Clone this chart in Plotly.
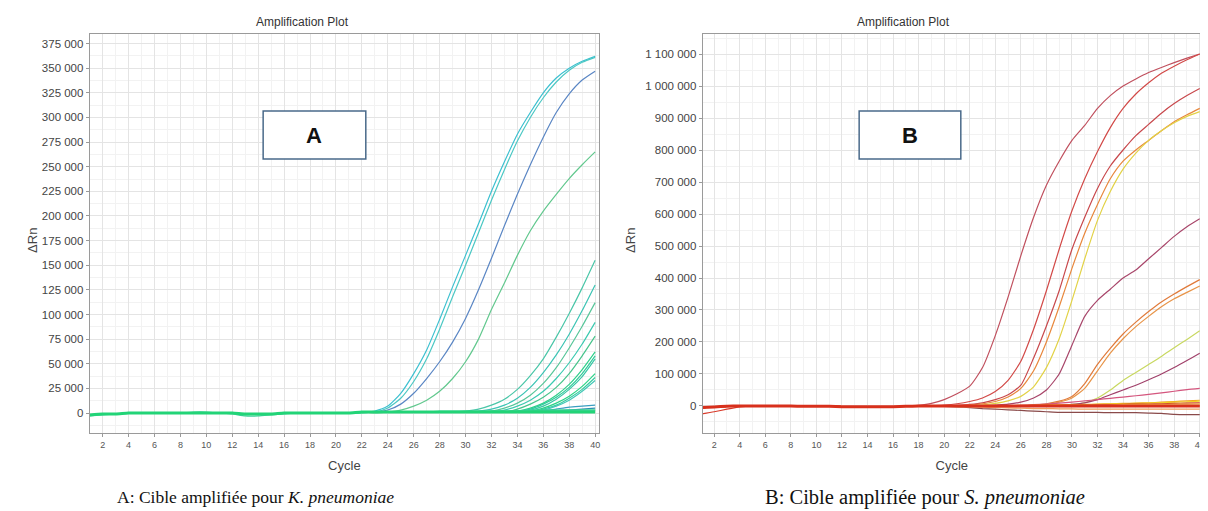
import plotly.graph_objects as go

# ---------------- data (values in thousands of ΔRn), cycles 1..40 ----------------
cycles = list(range(1, 41))

# Panel A baseline (cycles 1..40)
base_a = [-2, -1, -1, 0, 0, 0, 0, 0, 0, 0, 0, 0, -1, -1, -1, 0, 0, 0, 0, 0,
          0, 1, 1, 1, 1, 1, 1, 1, 1, 1, 1, 1, 1, 1, 1, 1, 1, 1, 1, 1]
# one thin baseline curve with a small dip (cycles 1..40)
dip_a = [-3, -2, -1, 0, 0, 0, 0, 0, 1, 1, 0, -1, -3, -3, -2, -1, 0, 0, 0, 0,
         0, 0, 1, 1, 1, 1, 1, 2, 2, 2, 2, 2, 2, 2, 3, 3, 3, 3, 3, 3]

# Panel A amplification curves: (first cycle of tail, tail values)
a_curves = {
    "A1": (23, [2, 7, 20, 40, 64, 95, 128, 160, 192, 225, 255, 283, 305, 325, 340, 350, 357, 362]),
    "A2": (23, [1, 5, 15, 32, 55, 85, 118, 150, 183, 216, 247, 276, 300, 320, 336, 348, 356, 361]),
    "A3": (23, [1, 3, 9, 20, 35, 52, 72, 96, 125, 157, 190, 222, 252, 280, 305, 324, 338, 347]),
    "A4": (23, [0, 1, 3, 7, 13, 22, 35, 52, 75, 105, 132, 160, 185, 205, 222, 238, 252, 265]),
    "A5": (30, [2, 4, 8, 14, 24, 38, 55, 77, 101, 127, 155]),
    "A6": (31, [2, 4, 8, 15, 26, 41, 59, 80, 104, 130]),
    "A7": (32, [2, 5, 10, 18, 30, 46, 66, 88, 112]),
    "A8": (33, [3, 7, 13, 22, 35, 51, 70, 92]),
    "A9": (34, [4, 9, 16, 26, 40, 58, 78]),
    "A10": (33, [1, 2, 5, 10, 18, 29, 44, 62]),
    "A11": (34, [2, 4, 9, 16, 26, 40, 58]),
    "A12": (34, [1, 3, 7, 14, 24, 37, 55]),
    "A13": (35, [2, 5, 10, 17, 27, 40]),
    "A14": (35, [1, 4, 8, 15, 24, 36]),
    "A15": (35, [1, 3, 7, 13, 22, 33]),
    "A16": (36, [2, 4, 6, 7, 8]),
    "A17": (37, [2, 3, 4, 5]),
    "A18": (30, [1, 1, 2, 2, 2, 2, 3, 3, 3, 3, 3]),
}
a_colors = {
    "A1": "#3cc0d0", "A2": "#4cc8c4", "A3": "#5a86c4", "A4": "#62c88e",
    "A5": "#4ac6a8", "A6": "#3cc4b4", "A7": "#58c69a", "A8": "#3ccab0",
    "A9": "#48c48c", "A10": "#2ed08a", "A11": "#30cc9a", "A12": "#3ac6a6",
    "A13": "#2ad486", "A14": "#38cca0", "A15": "#44c8b8", "A16": "#3a9ec0",
    "A17": "#2c8fb0", "A18": "#2bd47c",
}

# Panel B baseline (cycles 1..40)
base_b = [-5, -3, -1, 0, 0, 0, 0, 0, -1, -1, -1, -2, -2, -2, -2, -2, -1, 0, 0, 0,
          0, 0, 0, 0, 0, 0, 0, 0, 0, 0, 0, 0, 0, 0, 0, 0, 0, 0, 0, 0]

b_curves = {
    "B1": (18, [2, 8, 20, 38, 62, 120, 220, 340, 470, 590, 690, 765, 830, 877, 930, 970,
                1000, 1022, 1042, 1058, 1073, 1087, 1100]),
    "B2": (19, [1, 3, 7, 14, 25, 45, 80, 140, 240, 360, 490, 610, 710, 795, 870, 930, 975,
                1010, 1040, 1062, 1082, 1100]),
    "B3": (21, [2, 5, 10, 20, 35, 65, 150, 250, 360, 490, 590, 680, 750, 800, 845, 880, 915,
                945, 970, 992]),
    "B4": (22, [3, 7, 14, 28, 55, 110, 200, 310, 430, 540, 630, 710, 765, 800, 830, 860, 888,
                910, 930]),
    "B5": (23, [3, 8, 16, 30, 60, 120, 210, 330, 460, 580, 670, 740, 790, 830, 860, 885, 905, 920]),
    "B6": (24, [3, 6, 12, 25, 50, 100, 190, 280, 330, 365, 400, 425, 460, 495, 530, 560, 585]),
    "B7": (27, [3, 7, 15, 30, 70, 130, 180, 225, 262, 295, 325, 350, 373, 395]),
    "B8": (27, [2, 5, 12, 25, 55, 110, 165, 210, 248, 280, 310, 335, 355, 375]),
    "B9": (29, [2, 5, 10, 25, 50, 80, 105, 130, 155, 182, 208, 235]),
    "B10": (29, [2, 5, 10, 20, 35, 50, 65, 82, 100, 120, 142, 165]),
    "B11": (26, [2, 4, 6, 9, 12, 16, 20, 24, 28, 32, 36, 41, 46, 51, 55]),
    "B12": (24, [1, 1, 2, 2, 3, 3, 4, 5, 6, 7, 8, 9, 10, 12, 14, 16, 18]),
    "B13": (24, [0, 1, 1, 2, 2, 3, 3, 4, 5, 6, 7, 8, 9, 10, 12, 13, 15]),
    "B14": (24, [1, 1, 1, 2, 2, 2, 3, 3, 4, 4, 5, 6, 6, 7, 8, 9, 10]),
    "B15": (24, [0, 0, 1, 1, 1, 2, 2, 2, 3, 3, 4, 4, 5, 5, 6, 6, 7]),
    "B16": (24, [-1, -1, -1, -1, -1, 0, 0, 0, 0, 0, 1, 1, 1, 2, 2, 2, 3]),
    "B17": (20, [-1, -3, -5, -8, -10, -12, -14, -16, -18, -20, -20, -20, -20, -21, -21, -21,
                 -22, -23, -26, -27, -27]),
    "B18": (20, [-1, -2, -3, -4, -5, -6, -7, -8, -8, -9, -9, -10, -10, -10, -10, -10, -10,
                 -10, -10, -10, -10]),
}
b_start_outlier = [-25, -18, -10, -3, 0]   # red curve, cycles 1..5
b_colors = {
    "B1": "#c0505e", "B2": "#d24a48", "B3": "#c8484c", "B4": "#e8873c", "B5": "#e2d246",
    "B6": "#a8466a", "B7": "#e07a3a", "B8": "#e89448", "B9": "#c8d860", "B10": "#a0406a",
    "B11": "#d4567e", "B12": "#f0a020", "B13": "#f2d020", "B14": "#c83020", "B15": "#f0b850",
    "B16": "#e8e060", "B17": "#8a4a4a", "B18": "#f0a060",
}

a_yticks = list(range(0, 375001, 25000))
b_yticks = list(range(0, 1100001, 100000))
x_ticks = list(range(2, 41, 2))

def spaced(v):
    return f"{v:,}".replace(",", " ")

title_text = "Amplification Plot"
ylabel = "ΔRn"
xlabel = "Cycle"
caption_a = "A: Cible amplifiée pour <i>K. pneumoniae</i>"
caption_b = "B: Cible amplifiée pour <i>S. pneumoniae</i>"

# ---------------- figure ----------------
# the page body has an 8 px margin; the figure fills the rest of the 1208x511 window
OFF = 8
W, H = 1208 - OFF, 511 - OFF
fig = go.Figure()

def build(start, tail, base):
    return [v * 1000 for v in base[:start - 1] + tail]

LW = 1.2
for name, (start, tail) in a_curves.items():
    fig.add_trace(go.Scatter(x=cycles, y=build(start, tail, base_a), mode="lines",
                             line=dict(color=a_colors[name], width=LW, shape="spline", smoothing=0.6),
                             xaxis="x", yaxis="y", showlegend=False, hoverinfo="skip"))
fig.add_trace(go.Scatter(x=cycles, y=[v * 1000 for v in dip_a], mode="lines",
                         line=dict(color="#3ccf9a", width=LW, shape="spline", smoothing=0.6),
                         xaxis="x", yaxis="y", showlegend=False, hoverinfo="skip"))
fig.add_trace(go.Scatter(x=cycles, y=[v * 1000 for v in base_a], mode="lines",
                         line=dict(color="#22d477", width=3, shape="spline", smoothing=0.6),
                         xaxis="x", yaxis="y", showlegend=False, hoverinfo="skip"))

for name, (start, tail) in b_curves.items():
    fig.add_trace(go.Scatter(x=cycles, y=build(start, tail, base_b), mode="lines",
                             line=dict(color=b_colors[name], width=LW, shape="spline", smoothing=0.6),
                             xaxis="x2", yaxis="y2", showlegend=False, hoverinfo="skip"))
fig.add_trace(go.Scatter(x=cycles, y=[v * 1000 for v in b_start_outlier + base_b[5:]], mode="lines",
                         line=dict(color="#d83a2a", width=LW, shape="spline", smoothing=0.6),
                         xaxis="x2", yaxis="y2", showlegend=False, hoverinfo="skip"))
fig.add_trace(go.Scatter(x=cycles, y=[v * 1000 for v in base_b], mode="lines",
                         line=dict(color="#d8301c", width=3, shape="spline", smoothing=0.6),
                         xaxis="x2", yaxis="y2", showlegend=False, hoverinfo="skip"))

def px_x(p):
    return (p - OFF) / W

def px_y(p):
    return 1 - (p - OFF) / H

SANS = "Liberation Sans, Arial"
common_x = dict(tickvals=x_ticks, ticktext=[str(t) for t in x_ticks], showline=True, mirror=True,
                linecolor="#9a9a9a", linewidth=1, ticks="outside", ticklen=3, tickcolor="#9a9a9a",
                showgrid=True, gridcolor="#e4e4e4", gridwidth=1, zeroline=False,
                ticklabeloverflow="allow",
                tickfont=dict(family=SANS, size=9, color="#555"),
                minor=dict(dtick=1, showgrid=True, gridcolor="#f2f2f2", ticks=""),
                title=dict(text=xlabel, font=dict(family=SANS, size=13, color="#444"), standoff=12))
common_y = dict(showline=True, mirror=True, linecolor="#9a9a9a", ticks="outside", ticklen=3,
                tickcolor="#9a9a9a", showgrid=True, gridcolor="#e4e4e4", zeroline=False,
                tickfont=dict(family=SANS, size=11.5, color="#444"))

fig.update_layout(
    width=W, height=H, margin=dict(l=0, r=0, t=0, b=0),
    paper_bgcolor="white", plot_bgcolor="white",
    xaxis=dict(domain=[px_x(90), px_x(601)], range=[1, 40.3], anchor="y", **common_x),
    yaxis=dict(domain=[px_y(433), px_y(34)], range=[-20300, 384700], anchor="x",
               tickvals=a_yticks, ticktext=[spaced(v) for v in a_yticks],
               minor=dict(dtick=12500, showgrid=True, gridcolor="#f2f2f2", ticks=""), **common_y),
    xaxis2=dict(domain=[px_x(705), px_x(1205)], range=[1.1, 40.1], anchor="y2", **common_x),
    yaxis2=dict(domain=[px_y(433), px_y(34)], range=[-84400, 1162500], anchor="x2",
                tickvals=b_yticks, ticktext=[spaced(v) for v in b_yticks],
                minor=dict(dtick=50000, showgrid=True, gridcolor="#f2f2f2", ticks=""), **common_y),
)

for cx in (303, 906):
    fig.add_annotation(text=title_text, x=px_x(cx), y=px_y(22), xref="paper", yref="paper",
                       showarrow=False, font=dict(family=SANS, size=12, color="#333"),
                       xanchor="center", yanchor="middle")
for cx in (32, 632):
    fig.add_annotation(text=ylabel, x=px_x(cx), y=px_y(240), xref="paper", yref="paper",
                       showarrow=False, textangle=-90,
                       font=dict(family=SANS, size=13, color="#444"),
                       xanchor="center", yanchor="middle")

SERIF = "Liberation Serif, Times New Roman"
fig.add_annotation(text=caption_a, x=px_x(256), y=px_y(497), xref="paper", yref="paper",
                   showarrow=False, font=dict(family=SERIF, size=17.5, color="#111"),
                   xanchor="center", yanchor="middle")
fig.add_annotation(text=caption_b, x=px_x(928), y=px_y(497), xref="paper", yref="paper",
                   showarrow=False, font=dict(family=SERIF, size=20.5, color="#111"),
                   xanchor="center", yanchor="middle")

# labelled boxes
for (x0, x1, lab) in ((264, 367, "A"), (862, 964, "B")):
    fig.add_shape(type="rect", xref="paper", yref="paper",
                  x0=px_x(x0), x1=px_x(x1), y0=px_y(159), y1=px_y(111),
                  line=dict(color="#4a6a8a", width=1.5), fillcolor="white", layer="above")
    fig.add_annotation(text=f"<b>{lab}</b>", x=px_x((x0 + x1) / 2), y=px_y(136), xref="paper",
                       yref="paper", showarrow=False,
                       font=dict(family=SANS, size=22, color="#111"),
                       xanchor="center", yanchor="middle")

fig.write_html("out.html")
